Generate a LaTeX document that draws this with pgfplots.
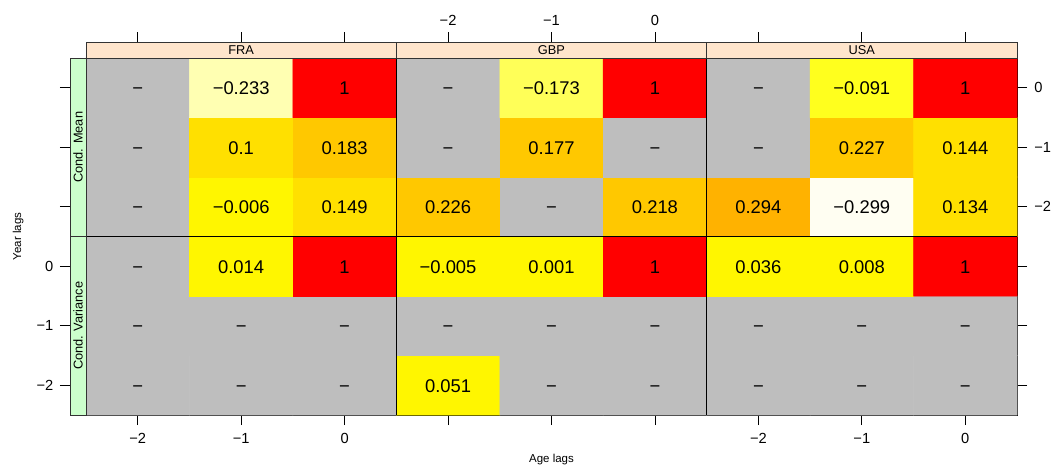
\documentclass[border=0pt]{standalone}
\usepackage{fontspec}
\setmainfont{Liberation Sans}
\usepackage{pgfplots}
\usepackage{pgfplotstable}
\pgfplotsset{compat=1.18}

\definecolor{stripTop}{HTML}{FFE5CC}
\definecolor{stripLeft}{HTML}{CCFFCC}

\newcommand\cellfont{\fontsize{13.8pt}{16pt}\selectfont}
\newcommand\tickfont{\fontsize{11pt}{13pt}\selectfont}
\newcommand\stripfont{\fontsize{9.6pt}{11pt}\selectfont}
\newcommand\labfont{\fontsize{8.6pt}{10pt}\selectfont}

% x: cell column (FRA 0-3, GBP 3-6, USA 6-9), y: cell row (Cond. Variance 0-3, Cond. Mean 3-6)
% c: colour class, lab: printed value
\pgfplotstableread{
x y c lab
0.5 0.5 0 −
1.5 0.5 0 −
2.5 0.5 0 −
3.5 0.5 5 0.051
4.5 0.5 0 −
5.5 0.5 0 −
6.5 0.5 0 −
7.5 0.5 0 −
8.5 0.5 0 −
0.5 1.5 0 −
1.5 1.5 0 −
2.5 1.5 0 −
3.5 1.5 0 −
4.5 1.5 0 −
5.5 1.5 0 −
6.5 1.5 0 −
7.5 1.5 0 −
8.5 1.5 0 −
0.5 2.5 0 −
1.5 2.5 5 0.014
2.5 2.5 9 1
3.5 2.5 5 −0.005
4.5 2.5 5 0.001
5.5 2.5 9 1
6.5 2.5 5 0.036
7.5 2.5 5 0.008
8.5 2.5 9 1
0.5 3.5 0 −
1.5 3.5 5 −0.006
2.5 3.5 6 0.149
3.5 3.5 7 0.226
4.5 3.5 0 −
5.5 3.5 7 0.218
6.5 3.5 8 0.294
7.5 3.5 1 −0.299
8.5 3.5 6 0.134
0.5 4.5 0 −
1.5 4.5 6 0.1
2.5 4.5 7 0.183
3.5 4.5 0 −
4.5 4.5 7 0.177
5.5 4.5 0 −
6.5 4.5 0 −
7.5 4.5 7 0.227
8.5 4.5 6 0.144
0.5 5.5 0 −
1.5 5.5 2 −0.233
2.5 5.5 9 1
3.5 5.5 0 −
4.5 5.5 3 −0.173
5.5 5.5 9 1
6.5 5.5 0 −
7.5 5.5 4 −0.091
8.5 5.5 9 1
}\cells

\begin{document}
\begin{tikzpicture}
\path (0,0) rectangle (798pt,-351pt);

% ---- main data axis ----
\begin{axis}[
  at={(64.5pt,-311.25pt)}, anchor=south west,
  scale only axis, width=698.25pt, height=267.75pt,
  xmin=0, xmax=9, ymin=0, ymax=6,
  clip=false,
  axis line style={black, line width=0.6pt},
  tick align=outside, major tick length=7.5pt,
  tick style={black, line width=0.6pt},
  xtick={0.5,1.5,2.5,3.5,4.5,5.5,6.5,7.5,8.5},
  xticklabels={−2,−1,0,{},{},{},−2,−1,0},
  xtick pos=left,
  ytick={0.5,1.5,2.5,3.5,4.5,5.5},
  yticklabels={{},{},{},−2,−1,0},
  ytick pos=right, yticklabel pos=right,
  ticklabel style={font=\tickfont},
  xticklabel style={yshift=-2.5pt},
  yticklabel style={xshift=2pt},
  xlabel={Age lags}, xlabel style={at={(rel axis cs:0.5,-0.126)}, anchor=center, font=\labfont},
  ylabel={Year lags}, ylabel style={at={(rel axis cs:-0.073,0.5)}, anchor=center, font=\labfont},
  colormap={cellmap}{rgb255=(190,190,190) rgb255=(255,254,242) rgb255=(255,255,178) rgb255=(255,255,88) rgb255=(255,255,30) rgb255=(255,246,0) rgb255=(255,224,0) rgb255=(255,200,0) rgb255=(255,178,0) rgb255=(255,0,0)},
  colormap access=direct,
]
\addplot[matrix plot*, mesh/cols=9, mesh/rows=6, point meta=explicit]
  table[x=x, y=y, meta=c] {\cells};
\addplot[draw=none, mark=none, nodes near coords, point meta=explicit symbolic,
  nodes near coords style={anchor=center, font=\cellfont, text=black, text height=0.72em, text depth=0pt, yshift=-1.5pt}]
  table[x=x, y=y, meta=lab] {\cells};

% panel borders
\draw[black, line width=0.6pt] (axis cs:3,0) -- (axis cs:3,6);
\draw[black, line width=0.6pt] (axis cs:6,0) -- (axis cs:6,6);
\draw[black, line width=0.6pt] (axis cs:0,3) -- (axis cs:9,3);

% strips
\draw[fill=stripTop, draw=black!80, line width=0.6pt] (axis cs:0,6) rectangle (axis cs:3,6.26891) node[midway, font=\stripfont] {FRA};
\draw[fill=stripTop, draw=black!80, line width=0.6pt] (axis cs:3,6) rectangle (axis cs:6,6.26891) node[midway, font=\stripfont] {GBP};
\draw[fill=stripTop, draw=black!80, line width=0.6pt] (axis cs:6,6) rectangle (axis cs:9,6.26891) node[midway, font=\stripfont] {USA};
\draw[fill=stripLeft, draw=black!80, line width=0.6pt] (axis cs:-0.15467,3) rectangle (axis cs:0,6) node[midway, rotate=90, font=\stripfont] {Cond. Mean};
\draw[fill=stripLeft, draw=black!80, line width=0.6pt] (axis cs:-0.15467,0) rectangle (axis cs:0,3) node[midway, rotate=90, font=\stripfont] {Cond. Variance};
\end{axis}

% ---- outer axis for top and left ticks (beyond the strips) ----
\begin{axis}[
  at={(52.5pt,-311.25pt)}, anchor=south west,
  scale only axis, width=710.25pt, height=279.75pt,
  xmin=-0.15467, xmax=9, ymin=0, ymax=6.26891,
  axis line style={draw=none},
  tick align=outside, major tick length=7.5pt,
  tick style={black, line width=0.6pt},
  xtick={0.5,1.5,2.5,3.5,4.5,5.5,6.5,7.5,8.5},
  xticklabels={{},{},{},−2,−1,0,{},{},{}},
  xtick pos=right, xticklabel pos=right,
  ytick={0.5,1.5,2.5,3.5,4.5,5.5},
  yticklabels={−2,−1,0,{},{},{}},
  ytick pos=left, yticklabel pos=left,
  ticklabel style={font=\tickfont},
  xticklabel style={yshift=1.5pt},
  yticklabel style={xshift=-1.5pt},
]
\end{axis}
\end{tikzpicture}
\end{document}
